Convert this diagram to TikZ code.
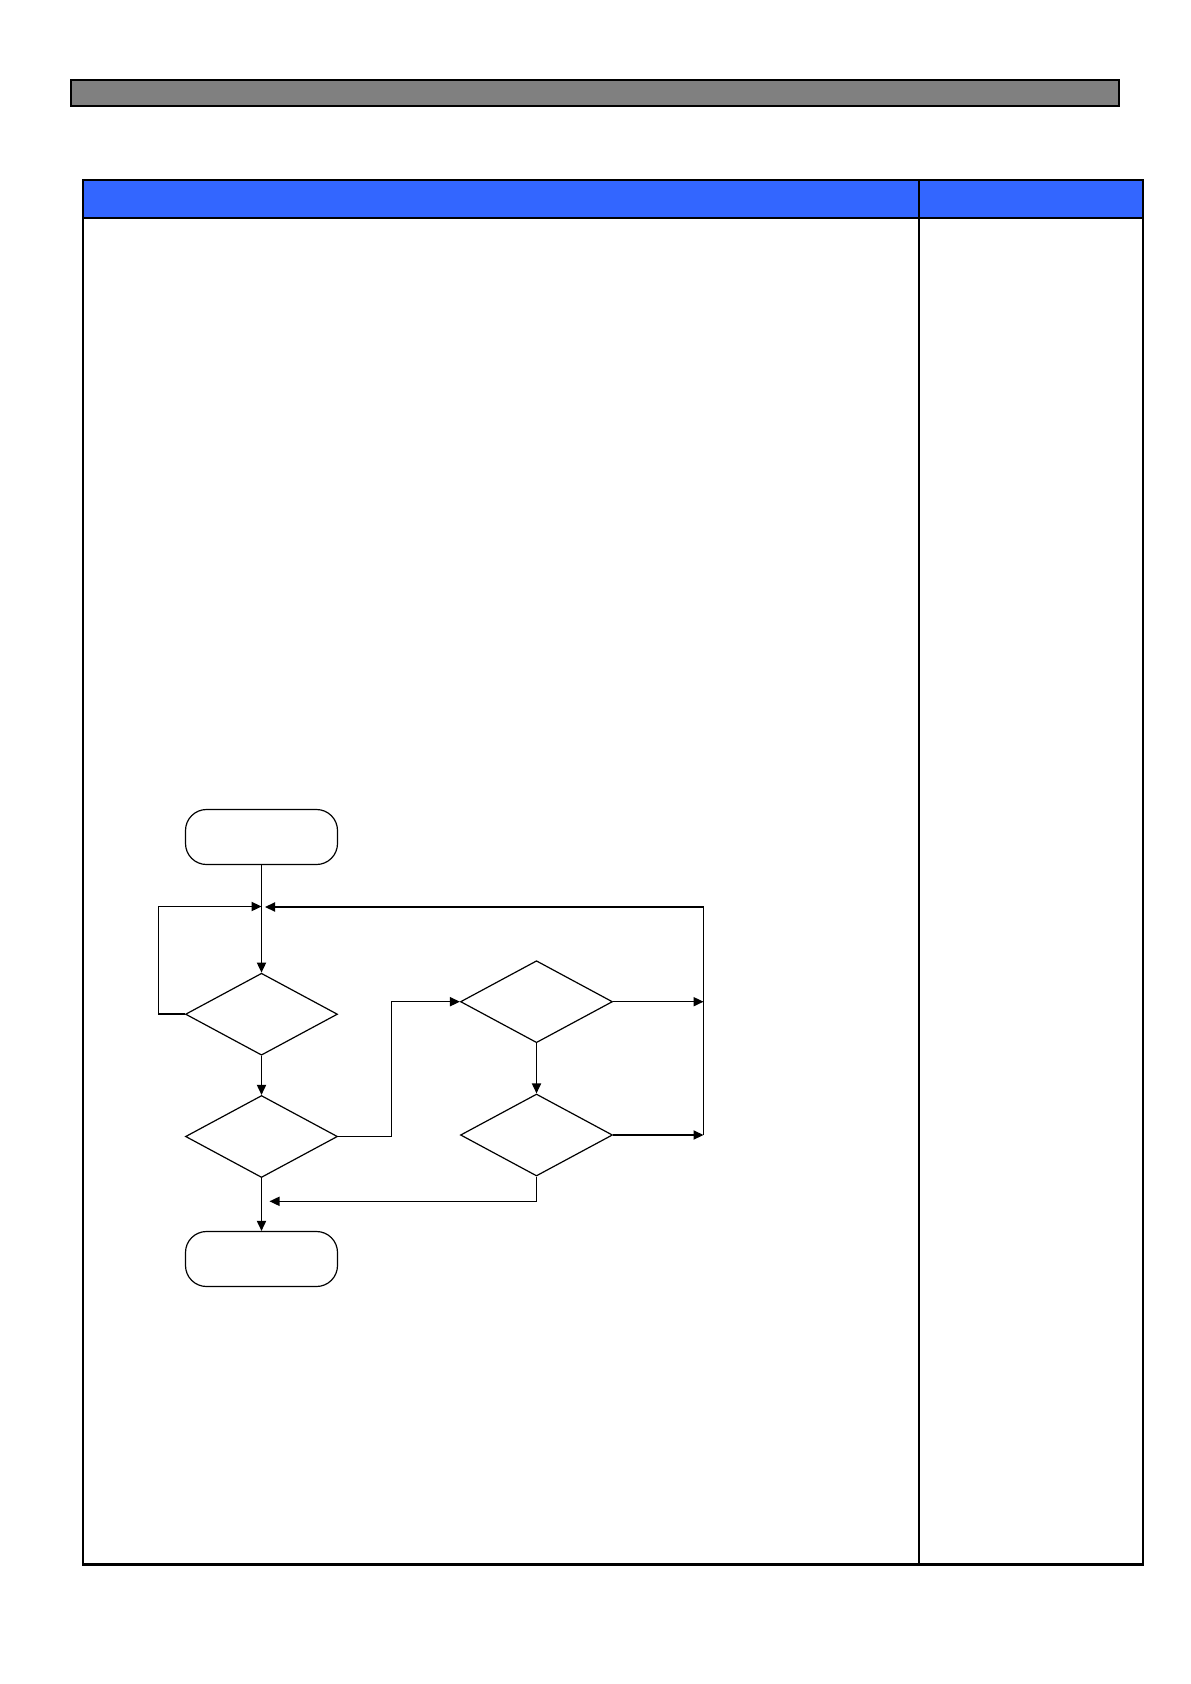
\documentclass[tikz,border=0pt]{standalone}
\usepackage{tikz}
\usetikzlibrary{shapes.geometric,arrows.meta}

\definecolor{headblue}{RGB}{51,102,255}
\definecolor{bargray}{RGB}{128,128,128}

\tikzset{
	terminal/.style={draw, rectangle, rounded corners=10.5pt, minimum width=76pt, minimum height=27.5pt, inner sep=0pt, line width=0.6pt},
	decision/.style={draw, diamond, minimum width=76pt, minimum height=41pt, inner sep=0pt, line width=0.6pt},
	flow/.style={line width=0.6pt, -{Triangle[length=5pt,width=4.6pt]}},
	wire/.style={line width=0.6pt}
}

\begin{document}
\begin{tikzpicture}[x=0.5pt, y=-0.5pt]

	\useasboundingbox (0,0) rectangle (1190,1684);

	% title bar
	\draw[fill=bargray, line width=1pt] (70.9,80) rectangle (1119,106);

	% table
	\fill[headblue] (82.7,180) rectangle (1143,218);
	\draw[line width=1.1pt] (82.7,180) rectangle (1143,1564.5);
	\draw[line width=1.1pt] (82.7,218) -- (1143,218);
	\draw[line width=1.1pt] (919,180) -- (919,1564.5);

	% flowchart
	\node[terminal] (start) at (261.5,837) {};
	\node[decision] (d1) at (261.5,1014.2) {};
	\node[decision] (d2) at (261.5,1136.5) {};
	\node[decision] (d3) at (536.5,1001.7) {};
	\node[decision] (d4) at (536.5,1135) {};
	\node[terminal] (stop) at (261.5,1259) {};

	\coordinate (merge) at (261.5,906.5);
	\coordinate (railtop) at (703.5,907);
	\coordinate (back) at (261.5,1201.3);

	\draw[flow] (start) -- (d1);
	\draw[flow, line width=0.8pt] (d1.west) -- ++(-26.3,0) |- (merge);
	\draw[flow] (d1) -- (d2);
	\draw[flow] (d2.east) -- ++(53.6,0) |- (d3.west);
	\draw[flow] (d3) -- (d4);
	\draw[flow] (d3.east) -- (d3.east -| railtop);
	\draw[flow] (d4.east) -- (d4.east -| railtop);
	\draw[wire] (d4.east -| railtop) -- (railtop);
	\draw[flow, shorten >=1.75pt] (railtop) -- (merge |- railtop);
	\draw[flow, shorten >=4pt] (d4.south) |- (back);
	\draw[flow] (d2) -- (stop);

\end{tikzpicture}
\end{document}
